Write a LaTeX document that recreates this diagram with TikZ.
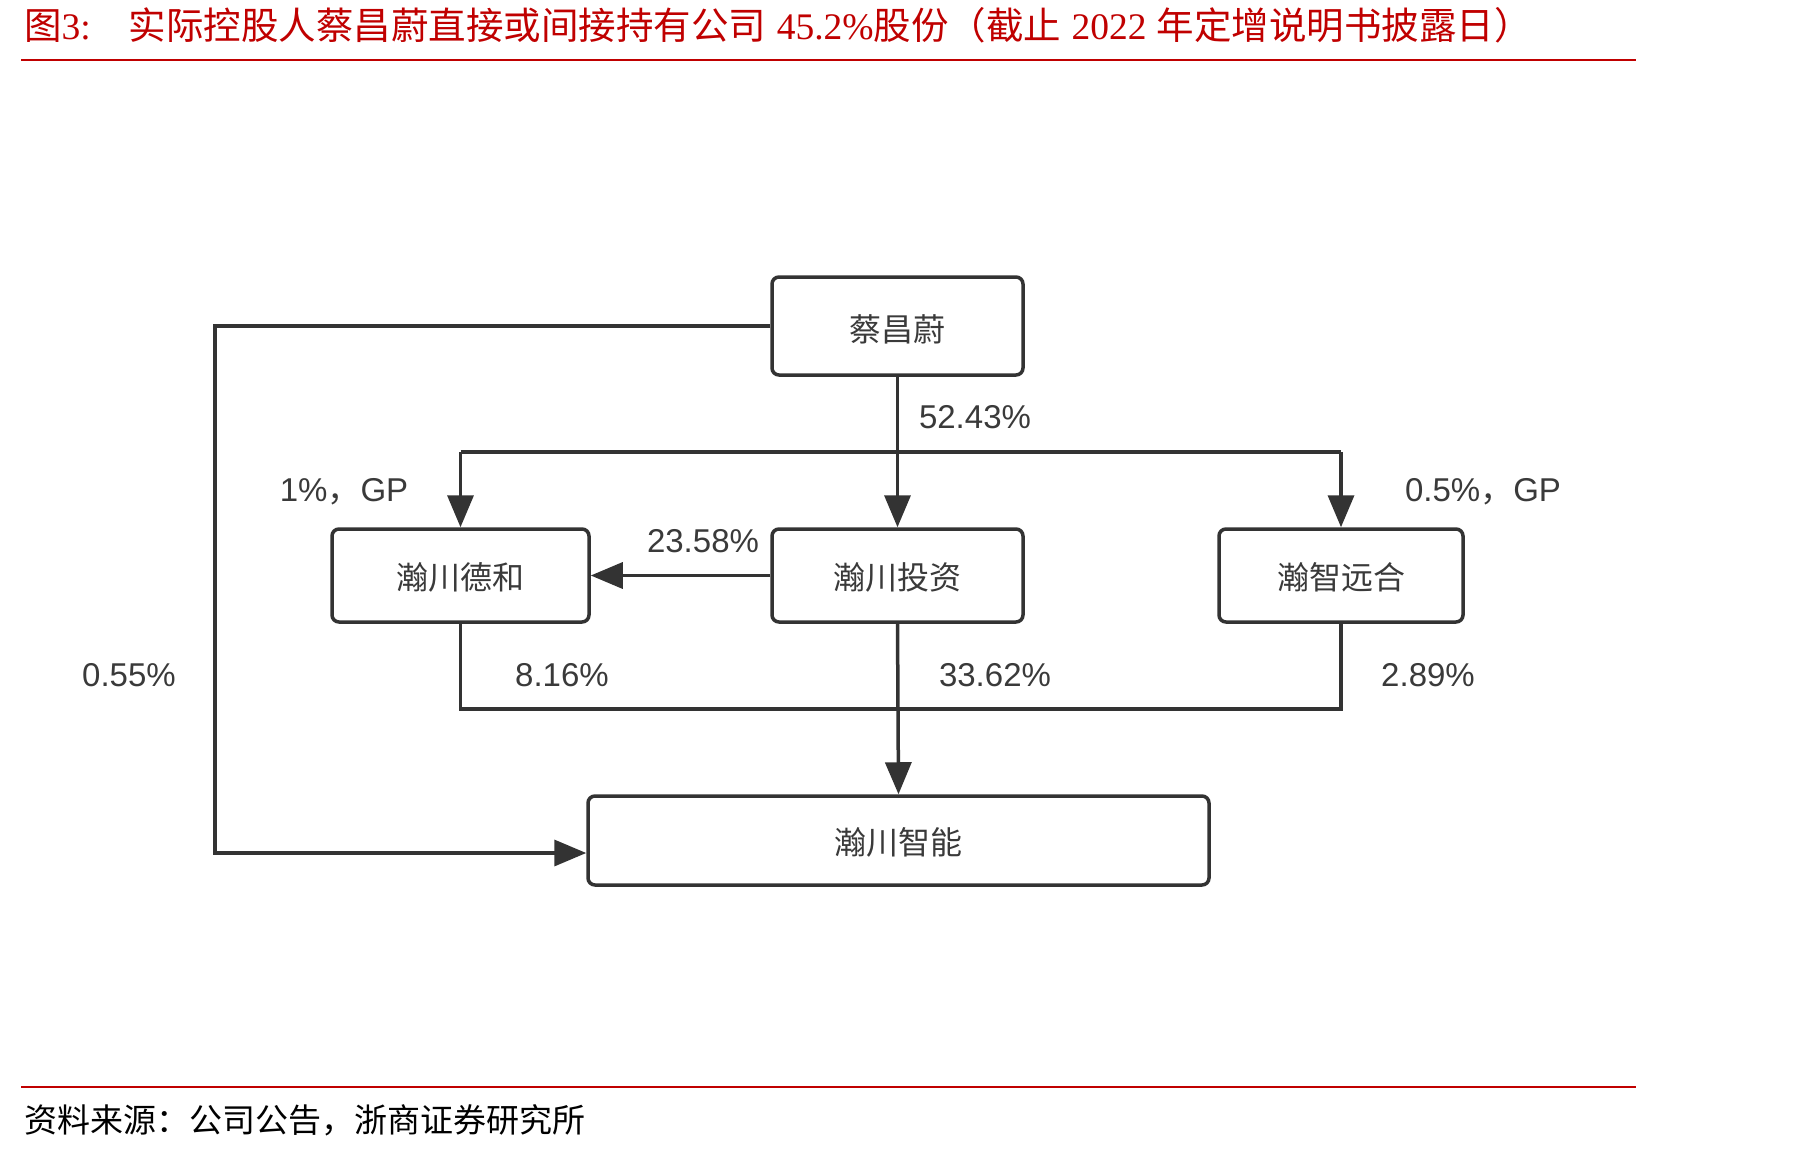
\documentclass[tikz,border=0pt]{standalone}
\usepackage{fontspec}
\setmainfont{Liberation Sans}
\newfontfamily\cjk{Noto Sans CJK SC}
\newfontfamily\tserif{Liberation Serif}
\usetikzlibrary{arrows.meta}
\definecolor{ln}{HTML}{333333}
\definecolor{tx}{HTML}{3A3A3A}
\definecolor{tr}{HTML}{C00000}
\begin{document}
\begin{tikzpicture}[x=1pt,y=-1pt,
  box/.style={draw=ln,line width=3.5pt,rounded corners=7pt,fill=white,
    font=\cjk\fontsize{32}{36}\selectfont,text=tx,inner sep=0pt},
  conn/.style={draw=ln,line width=3.5pt},
  arr/.style={conn,-{Triangle[length=32pt,width=26pt]}},
  lbl/.style={font=\fontsize{33}{38}\selectfont,text=tx,inner sep=0pt},
  btxt/.style={font=\cjk\fontsize{32}{36}\selectfont,text=tx,inner sep=0pt}]
\useasboundingbox[fill=white] (0,0) rectangle (1810,1151);
% title
\node[anchor=west,text=tr,inner sep=0pt,font=\fontsize{37.5}{40}\selectfont] (title) at (24,25)
  {{\cjk 图}{\tserif 3:}\hspace{38pt}{\cjk 实际控股人蔡昌蔚直接或间接持有公司}~{\tserif 45.2\%}{\cjk 股份（截止}~{\tserif 2022}~{\cjk 年定增说明书披露日）}};
\draw[tr,line width=2pt] (21,60) -- (1636,60);
\draw[tr,line width=2pt] (21,1087) -- (1636,1087);
\node[anchor=west,inner sep=0pt,font=\cjk\fontsize{33}{36}\selectfont] (src) at (24,1120) {资料来源：公司公告，浙商证券研究所};
% boxes
\node[box,minimum width=251pt,minimum height=98pt] (cai) at (897.5,326) {};
\node[box,minimum width=257pt,minimum height=93pt] (dh) at (460.5,575.5) {};
\node[box,minimum width=251pt,minimum height=93pt] (tz) at (897.5,575.5) {};
\node[box,minimum width=244pt,minimum height=93pt] (yh) at (1341,575.5) {};
\node[box,minimum width=621pt,minimum height=89pt] (zn) at (898.5,840.5) {};
\node[btxt] (caiT) at ([yshift=-3pt]cai.center) {蔡昌蔚};
\node[btxt] (dhT) at ([yshift=-2pt]dh.center) {瀚川德和};
\node[btxt] (tzT) at ([yshift=-2pt]tz.center) {瀚川投资};
\node[btxt] (yhT) at ([yshift=-2pt]yh.center) {瀚智远合};
\node[btxt] (znT) at ([yshift=-2pt]zn.center) {瀚川智能};
% helper coordinates
\coordinate (lc) at (215,853);
\coordinate (top) at (0,452);
\coordinate (bot) at (0,709);
% connectors
\draw[arr] (cai.west) -| (lc) -- (zn.west |- lc);
\draw[arr] (cai.south) -- (tz.north);
\draw[arr] (dh.north |- top) -- (dh.north);
\draw[arr] (yh.north |- top) -- (yh.north);
\draw[conn] (dh.north |- top) -- (yh.north |- top);
\draw[arr] (tz.west) -- (dh.east);
\draw[conn] (dh.south) -- (dh.south |- bot) -- (yh.south |- bot) -- (yh.south);
\draw[arr] (tz.south) -- (zn.north);
% labels
\node[lbl] (l1) at (975,417) {52.43\%};
\node[lbl] (l2) at (344,492) {1\%{\cjk ，}GP};
\node[lbl] (l3) at (1483,492) {0.5\%{\cjk ，}GP};
\node[lbl] (l4) at (703,541) {23.58\%};
\node[lbl] (l5) at (129,675) {0.55\%};
\node[lbl] (l6) at (562,675) {8.16\%};
\node[lbl] (l7) at (995,675) {33.62\%};
\node[lbl] (l8) at (1428,675) {2.89\%};
\end{tikzpicture}
\end{document}
